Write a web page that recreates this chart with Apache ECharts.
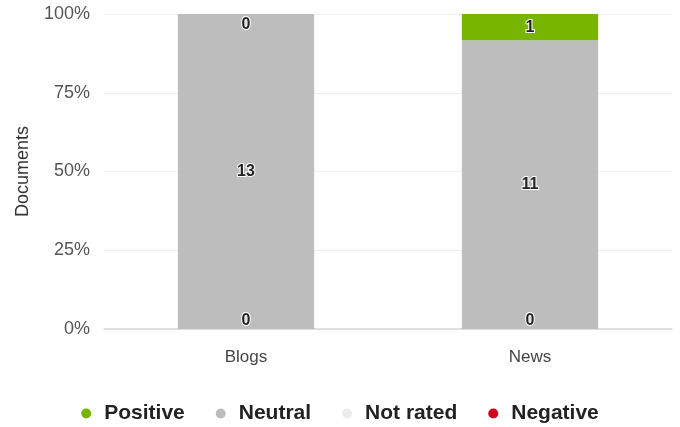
<!DOCTYPE html>
<html>
<head>
<meta charset="utf-8">
<script src="https://cdn.jsdelivr.net/npm/echarts@6/dist/echarts.min.js"></script>
<style>
  html, body { margin: 0; padding: 0; background: #fff; }
  #chart { width: 680px; height: 427px; }
</style>
</head>
<body>
<div id="chart"></div>
<script>
const categories = ['Blogs', 'News'];
const negative = [0, 0];
const notRated = [0, 0];
const neutral = [13, 11];
const positive = [0, 1];
const yTicks = [0, 25, 50, 75, 100];

const font = '"Liberation Sans", Arial, sans-serif';
const totals = categories.map((c, i) => negative[i] + notRated[i] + neutral[i] + positive[i]);

// zero-height segments put their label just inside the bar edge
function makeSeries(name, counts, color, zeroPosition, zeroDistance, showLabel) {
    return {
        name: name,
        type: 'bar',
        stack: 'total',
        barWidth: '48%',
        itemStyle: { color: color },
        label: {
            show: showLabel,
            position: 'inside',
            fontFamily: font,
            fontSize: 16,
            fontWeight: 'bold',
            color: '#222',
            textBorderColor: '#fff',
            textBorderWidth: 2,
            formatter: p => counts[p.dataIndex]
        },
        data: counts.map((v, i) => ({
            value: totals[i] ? v / totals[i] * 100 : 0,
            label: v === 0 ? { position: zeroPosition, distance: zeroDistance } : {}
        }))
    };
}

const chart = echarts.init(document.getElementById('chart'));
chart.setOption({
    animation: false,
    grid: { left: 104, right: 8, top: 14, bottom: 98 },
    legend: {
        data: ['Positive', 'Neutral', 'Not rated', 'Negative'],
        bottom: -2,
        left: 'center',
        icon: 'circle',
        itemWidth: 10,
        itemHeight: 10,
        itemGap: 31,
        textStyle: { fontFamily: font, fontSize: 21, fontWeight: 'bold', color: '#222', padding: [0, 0, 0, 8] }
    },
    xAxis: {
        type: 'category',
        data: categories,
        axisTick: { show: false },
        axisLine: { lineStyle: { color: '#d6d6d6', width: 1.5 } },
        axisLabel: { fontFamily: font, fontSize: 17, color: '#444', margin: 20 }
    },
    yAxis: {
        type: 'value',
        min: yTicks[0],
        max: yTicks[yTicks.length - 1],
        interval: 25,
        name: 'Documents',
        nameLocation: 'middle',
        nameGap: 72,
        nameTextStyle: { fontFamily: font, fontSize: 18, color: '#333' },
        axisLabel: { fontFamily: font, fontSize: 18, color: '#555', margin: 14, formatter: '{value}%' },
        splitLine: { lineStyle: { color: '#f0f0f0' } }
    },
    series: [
        makeSeries('Negative', negative, '#d0021b', 'insideBottom', 0, true),
        makeSeries('Not rated', notRated, '#ececec', 'inside', 4, false),
        makeSeries('Neutral', neutral, '#bdbdbd', 'inside', 4, true),
        makeSeries('Positive', positive, '#78b500', 'insideTop', 3, true)
    ]
});
</script>
</body>
</html>
